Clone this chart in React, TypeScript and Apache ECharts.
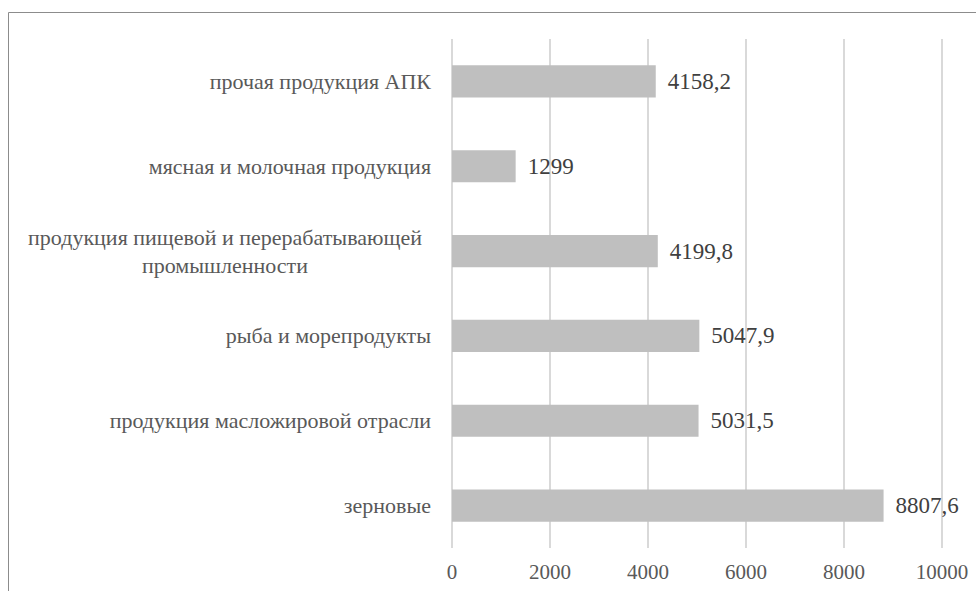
import React, { useEffect, useRef } from "react";
import * as echarts from "echarts";

const categories = [
  "прочая продукция АПК",
  "мясная и молочная продукция",
  "продукция пищевой и перерабатывающей\nпромышленности",
  "рыба и морепродукты",
  "продукция масложировой отрасли",
  "зерновые",
];
const values = [4158.2, 1299, 4199.8, 5047.9, 5031.5, 8807.6];
const xTicks = [0, 2000, 4000, 6000, 8000, 10000];

const FONT = "Liberation Serif";

export default function App() {
  const ref = useRef<HTMLDivElement>(null);
  useEffect(() => {
    document.body.style.margin = "0";
    const chart = echarts.init(ref.current!, null, { renderer: "svg" });
    chart.setOption({
      animation: false,
      backgroundColor: "#ffffff",
      textStyle: { fontFamily: FONT },
      grid: { left: 452, right: 34, top: 39, bottom: 43, containLabel: false },
      xAxis: {
        type: "value",
        min: xTicks[0],
        max: xTicks[xTicks.length - 1],
        interval: 2000,
        axisLine: { show: false },
        axisTick: { show: false },
        splitLine: { show: true, lineStyle: { color: "#d9d9d9", width: 2 } },
        axisLabel: {
          color: "#595959",
          fontSize: 21,
          fontFamily: FONT,
          margin: 13,
          formatter: (v: number) => String(v),
        },
      },
      yAxis: {
        type: "category",
        data: categories,
        inverse: true,
        axisLine: { show: false },
        axisTick: { show: false },
        axisLabel: {
          color: "#595959",
          fontSize: 22,
          fontFamily: FONT,
          margin: 21,
          lineHeight: 28,
          formatter: (v: string) =>
            v.indexOf("\n") >= 0
              ? v
                  .split("\n")
                  .map((s) => "{c|" + s + "}")
                  .join("\n")
              : v,
          rich: {
            c: {
              width: 412,
              align: "center",
              fontSize: 22,
              fontFamily: FONT,
              color: "#595959",
              lineHeight: 28,
            },
          },
        },
      },
      series: [
        {
          type: "bar",
          data: values,
          barCategoryGap: "62%",
          itemStyle: { color: "#bfbfbf" },
          label: {
            show: true,
            position: "right",
            distance: 12,
            color: "#404040",
            fontSize: 23,
            fontFamily: FONT,
            formatter: (p: any) => String(p.value).replace(".", ","),
          },
        },
      ],
      graphic: [
        {
          type: "line",
          shape: { x1: 8.5, y1: 12.5, x2: 976, y2: 12.5 },
          style: { stroke: "#8c8c8c", lineWidth: 1 },
          silent: true,
        },
        {
          type: "line",
          shape: { x1: 8.5, y1: 12.5, x2: 8.5, y2: 591 },
          style: { stroke: "#8c8c8c", lineWidth: 1 },
          silent: true,
        },
      ],
    });
    return () => chart.dispose();
  }, []);
  return <div ref={ref} style={{ width: 976, height: 591 }} />;
}
